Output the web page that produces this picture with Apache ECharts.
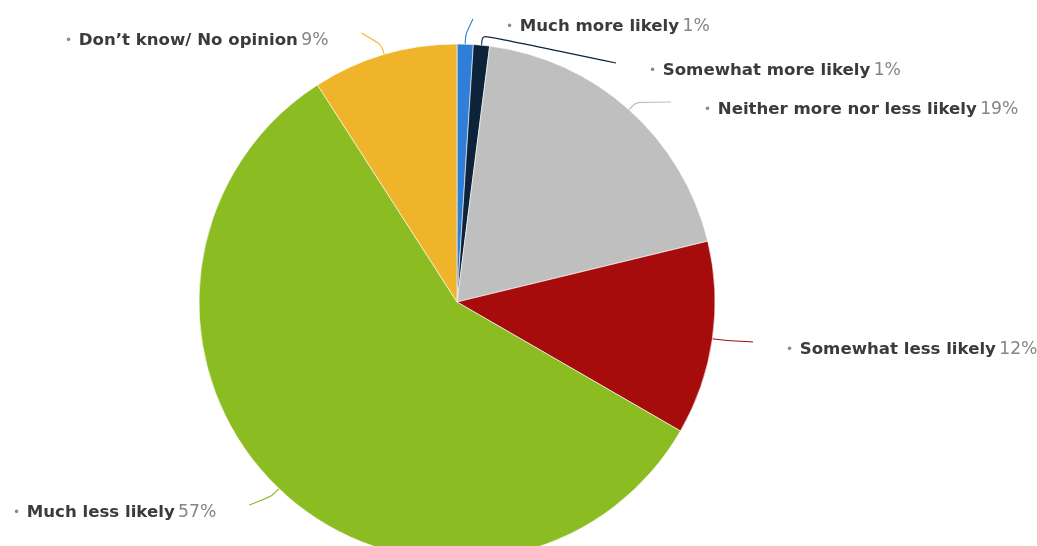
<!DOCTYPE html>
<html>
<head>
<meta charset="utf-8">
<style>
  html, body { margin: 0; padding: 0; background: #ffffff; }
  #chart { width: 1037px; height: 546px; }
</style>
<script src="https://cdn.jsdelivr.net/npm/echarts@6/dist/echarts.min.js"></script>
</head>
<body>
<div id="chart"></div>
<script>
// Survey answers, in drawing order (clockwise from 12 o'clock)
const categories = [
  'Much more likely',
  'Somewhat more likely',
  'Neither more nor less likely',
  'Somewhat less likely',
  'Much less likely',
  'Don\u2019t know/ No opinion'
];
const shares = [1, 1, 19, 12, 57, 9];
const sliceColors = ['#2f7ed8', '#0d233a', '#bfbfbf', '#a60c0c', '#8bbc21', '#efb42a'];

// Pie geometry
const pieCenter = [457, 302];
const pieRadius = 258;

// Label placement: left edge x of the text block, vertical middle y, and which side of the pie
const labelSpots = [
  [506, 27, 'right'],
  [649, 71, 'right'],
  [704, 110, 'right'],
  [786, 350, 'right'],
  [13, 513, 'left'],
  [65, 41, 'left']
];
// Connector styling: empty space before the label, lift above the label's middle, outward stub
const connectorGap = 33;
const connectorLift = 8;
const connectorStub = 10;

const chart = echarts.init(document.getElementById('chart'), null, { renderer: 'canvas' });

chart.setOption({
  backgroundColor: '#ffffff',
  animation: false,
  series: [{
    type: 'pie',
    center: pieCenter,
    radius: pieRadius,
    startAngle: 90,
    clockwise: true,
    avoidLabelOverlap: false,
    itemStyle: { borderColor: '#ffffff', borderWidth: 0.6 },
    label: {
      show: true,
      position: 'outside',
      formatter: p => '{dot|\u2022}  {name|' + p.name + '} {pct|' + p.value + '%}',
      rich: {
        dot: { color: '#8a8a8a', fontSize: 12, fontFamily: 'DejaVu Sans' },
        name: { color: '#3b3b3b', fontSize: 16.6, fontWeight: 'bold', fontFamily: 'DejaVu Sans' },
        pct: { color: '#858585', fontSize: 17.2, fontFamily: 'DejaVu Sans' }
      }
    },
    labelLine: {
      show: true,
      length: 18,
      length2: 10,
      smooth: 0.3,
      lineStyle: { width: 1.1 }
    },
    labelLayout: params => {
      const s = labelSpots[params.dataIndex];
      // start on the slice edge at its middle angle, step outward, then run to the label
      const start = params.labelLinePoints[0];
      const dx = start[0] - pieCenter[0];
      const dy = start[1] - pieCenter[1];
      const len = Math.sqrt(dx * dx + dy * dy) || 1;
      const stub = [start[0] + dx / len * connectorStub, start[1] + dy / len * connectorStub];
      const endX = s[2] === 'right'
        ? s[0] - connectorGap
        : s[0] + params.labelRect.width + connectorGap;
      const end = [endX, s[1] - connectorLift];
      return {
        x: s[0],
        y: s[1],
        align: 'left',
        verticalAlign: 'middle',
        labelLinePoints: [start, stub, end]
      };
    },
    data: categories.map((name, i) => ({
      name: name,
      value: shares[i],
      itemStyle: { color: sliceColors[i] },
      labelLine: { lineStyle: { color: sliceColors[i] } }
    }))
  }]
});
</script>
</body>
</html>
